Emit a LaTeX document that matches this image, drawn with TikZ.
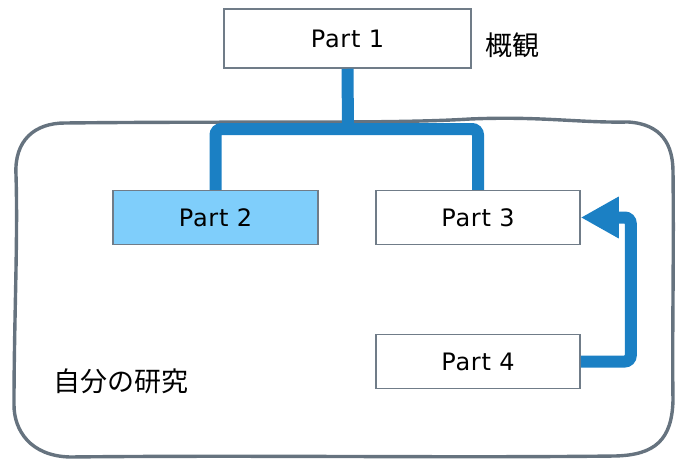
\documentclass[tikz,border=0pt]{standalone}
\usepackage{fontspec}
\setmainfont{Noto Sans CJK JP}
\newfontfamily\partfont[LetterSpace=3]{DejaVu Sans}
\usetikzlibrary{arrows.meta,calc}
\definecolor{connblue}{HTML}{1B80C4}
\definecolor{boxgray}{HTML}{707C88}
\definecolor{framegray}{HTML}{66737F}
\definecolor{lightblue}{HTML}{7FCEFB}
\tikzset{
  partbox/.style={draw=boxgray, line width=1.5pt, fill=white, minimum width=204pt, minimum height=54pt, inner sep=0pt, font=\partfont\fontsize{24}{28}\selectfont},
  conn/.style={draw=connblue, line width=12pt},
  frame/.style={draw=framegray, line width=3.4pt},
  lbl/.style={inner sep=0pt, font=\fontsize{27}{31}\selectfont}
}
\begin{document}
\begin{tikzpicture}[x=1pt,y=-1pt]
\useasboundingbox (0,0) rectangle (676,460);
% hand-drawn frame
\draw[frame] (65,123) .. controls (250,121) and (390,124) .. (470,119)
  .. controls (540,116) and (580,123) .. (628,122)
  .. controls (662,124) and (673,145) .. (673,172)
  .. controls (674,260) and (672,340) .. (673,400)
  .. controls (672,440) and (655,455) .. (615,456)
  .. controls (450,458) and (250,455) .. (70,457)
  .. controls (30,456) and (14,430) .. (14,405)
  .. controls (14,320) and (18,240) .. (16,175)
  .. controls (14,140) and (35,123) .. (65,123) -- cycle;
\node[partbox, minimum width=247pt, minimum height=59pt] (p1) at (347.5,38.5) {Part 1};
\node[partbox, minimum width=205pt, fill=lightblue] (p2) at (215.5,217.5) {Part 2};
\node[partbox] (p3) at (478,217.5) {Part 3};
\node[partbox] (p4) at (478,361.5) {Part 4};
\node[lbl] (ov) at (512,45) {概観};
\node[lbl, anchor=west] (own) at (53,381) {自分の研究};
\coordinate (bar) at (348,129);
\draw[conn] (p1.south) -- (bar);
\draw[conn, rounded corners=6pt] (p2.north) |- (bar) -| (p3.north);
\draw[conn, rounded corners=6pt, -{Triangle[length=38pt,width=39pt]}] (p4.east) -| ([xshift=50pt]p3.east) -- (p3.east);
\end{tikzpicture}
\end{document}
